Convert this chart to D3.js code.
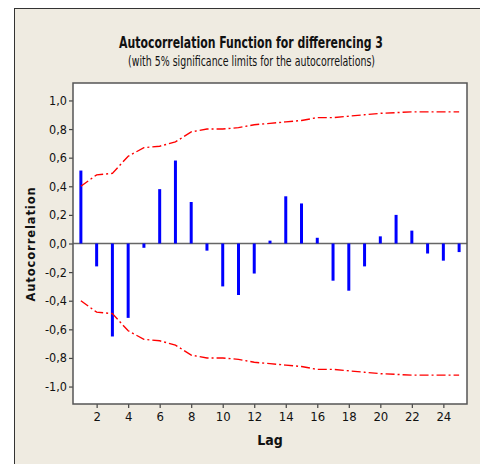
<!DOCTYPE html>
<html>
<head>
<meta charset="utf-8">
<script src="https://cdn.jsdelivr.net/npm/d3@7"></script>
<style>
  html, body { margin: 0; padding: 0; background: #ffffff; }
  svg { display: block; }
</style>
</head>
<body>
<svg id="chart" width="480" height="464"></svg>
<script>
// ---- data ----
const lags = [1,2,3,4,5,6,7,8,9,10,11,12,13,14,15,16,17,18,19,20,21,22,23,24,25];
const acf = [0.51,-0.16,-0.65,-0.52,-0.03,0.38,0.58,0.29,-0.05,-0.30,-0.36,-0.21,0.02,0.33,0.28,0.04,-0.26,-0.33,-0.16,0.05,0.20,0.09,-0.07,-0.12,-0.06];
const limits = [0.40,0.48,0.49,0.61,0.67,0.68,0.71,0.78,0.80,0.80,0.81,0.83,0.84,0.85,0.86,0.88,0.88,0.89,0.90,0.91,0.915,0.92,0.92,0.92,0.92];
const xTicks = [2,4,6,8,10,12,14,16,18,20,22,24];
const yTicks = [-1.0,-0.8,-0.6,-0.4,-0.2,0.0,0.2,0.4,0.6,0.8,1.0];
const titleText = "Autocorrelation Function for differencing 3";
const subtitleText = "(with 5% significance limits for the autocorrelations)";
const xLabel = "Lag";
const yLabel = "Autocorrelation";

// ---- layout ----
const svg = d3.select("#chart");
const narrow = "'Liberation Sans Narrow', 'DejaVu Sans Condensed', 'Arial Narrow', sans-serif";
const plot = { left: 73, right: 467, top: 83, bottom: 404 };

// scale text horizontally so it spans a given width (keeps height from font-size)
function squeeze(sel, cx, cy, width) {
  sel.attr("x", 0).attr("y", 0);
  const w = sel.node().getComputedTextLength();
  const sx = w > 0 ? Math.min(1, width / w) : 1;
  sel.attr("transform", `translate(${cx},${cy}) scale(${sx.toFixed(3)},1)`);
  return sel;
}

// outer panel
svg.append("rect")
  .attr("x", 14.5).attr("y", 8.5)
  .attr("width", 480).attr("height", 470)
  .attr("fill", "#efebe1")
  .attr("stroke", "#333").attr("stroke-width", 1);

// plot area
svg.append("rect")
  .attr("x", plot.left).attr("y", plot.top)
  .attr("width", plot.right - plot.left).attr("height", plot.bottom - plot.top)
  .attr("fill", "#ffffff");

const x = d3.scaleLinear().domain([0.5, 25.5]).range([plot.left, plot.right]);
const y = d3.scaleLinear().domain([-1.122, 1.122]).range([plot.bottom, plot.top]);

const fmt = v => d3.format(".1f")(v).replace(".", ",").replace("\u2212", "-");

// y axis
const yAxis = svg.append("g")
  .attr("transform", `translate(${plot.left},0)`)
  .call(d3.axisLeft(y).tickValues(yTicks).tickFormat(fmt).tickSize(4).tickPadding(2));
yAxis.select(".domain").remove();
yAxis.selectAll(".tick line").attr("stroke", "#444").attr("stroke-width", 1.2);
yAxis.selectAll(".tick text")
  .attr("font-family", narrow).attr("font-size", 12.5).attr("fill", "#111");

// x axis
const xAxis = svg.append("g")
  .attr("transform", `translate(0,${plot.bottom})`)
  .call(d3.axisBottom(x).tickValues(xTicks).tickFormat(d3.format("d")).tickSize(4).tickPadding(4));
xAxis.select(".domain").remove();
xAxis.selectAll(".tick line").attr("stroke", "#444").attr("stroke-width", 1.2);
xAxis.selectAll(".tick text")
  .attr("font-family", narrow).attr("font-size", 13).attr("fill", "#111");

// zero line
svg.append("line")
  .attr("x1", plot.left).attr("x2", plot.right)
  .attr("y1", y(0)).attr("y2", y(0))
  .attr("stroke", "#666").attr("stroke-width", 1.5);

// bars
svg.append("g").selectAll("line")
  .data(lags)
  .join("line")
  .attr("x1", d => x(d)).attr("x2", d => x(d))
  .attr("y1", y(0))
  .attr("y2", (d, i) => y(acf[i]))
  .attr("stroke", "#0000ff")
  .attr("stroke-width", 3);

// significance limits
const line = d3.line().x(d => x(d[0])).y(d => y(d[1]));
const upper = lags.map((l, i) => [l, limits[i]]);
const lower = lags.map((l, i) => [l, -limits[i]]);
[upper, lower].forEach(pts => {
  svg.append("path")
    .attr("d", line(pts))
    .attr("fill", "none")
    .attr("stroke", "#ff0000")
    .attr("stroke-width", 1.4)
    .attr("stroke-dasharray", "9,3,2,3");
});

// plot border
svg.append("rect")
  .attr("x", plot.left).attr("y", plot.top)
  .attr("width", plot.right - plot.left).attr("height", plot.bottom - plot.top)
  .attr("fill", "none")
  .attr("stroke", "#555").attr("stroke-width", 1.5);

// titles
const t1 = svg.append("text")
  .attr("text-anchor", "middle")
  .attr("font-family", narrow).attr("font-weight", "bold").attr("font-size", 16.5)
  .attr("fill", "#111")
  .text(titleText);
squeeze(t1, 251, 48, 264);

const t2 = svg.append("text")
  .attr("text-anchor", "middle")
  .attr("font-family", narrow).attr("font-size", 14)
  .attr("fill", "#111")
  .text(subtitleText);
squeeze(t2, 251.5, 66, 247);

// axis labels
svg.append("text")
  .attr("x", x(13)).attr("y", 445)
  .attr("text-anchor", "middle")
  .attr("font-family", narrow).attr("font-weight", "bold").attr("font-size", 14)
  .attr("fill", "#111")
  .text(xLabel);

svg.append("text")
  .attr("transform", `translate(35,244) rotate(-90)`)
  .attr("text-anchor", "middle")
  .attr("font-family", "'DejaVu Sans', Verdana, sans-serif").attr("font-weight", "bold")
  .attr("font-size", 11.5).attr("letter-spacing", 0.9)
  .attr("fill", "#111")
  .text(yLabel);
</script>
</body>
</html>
